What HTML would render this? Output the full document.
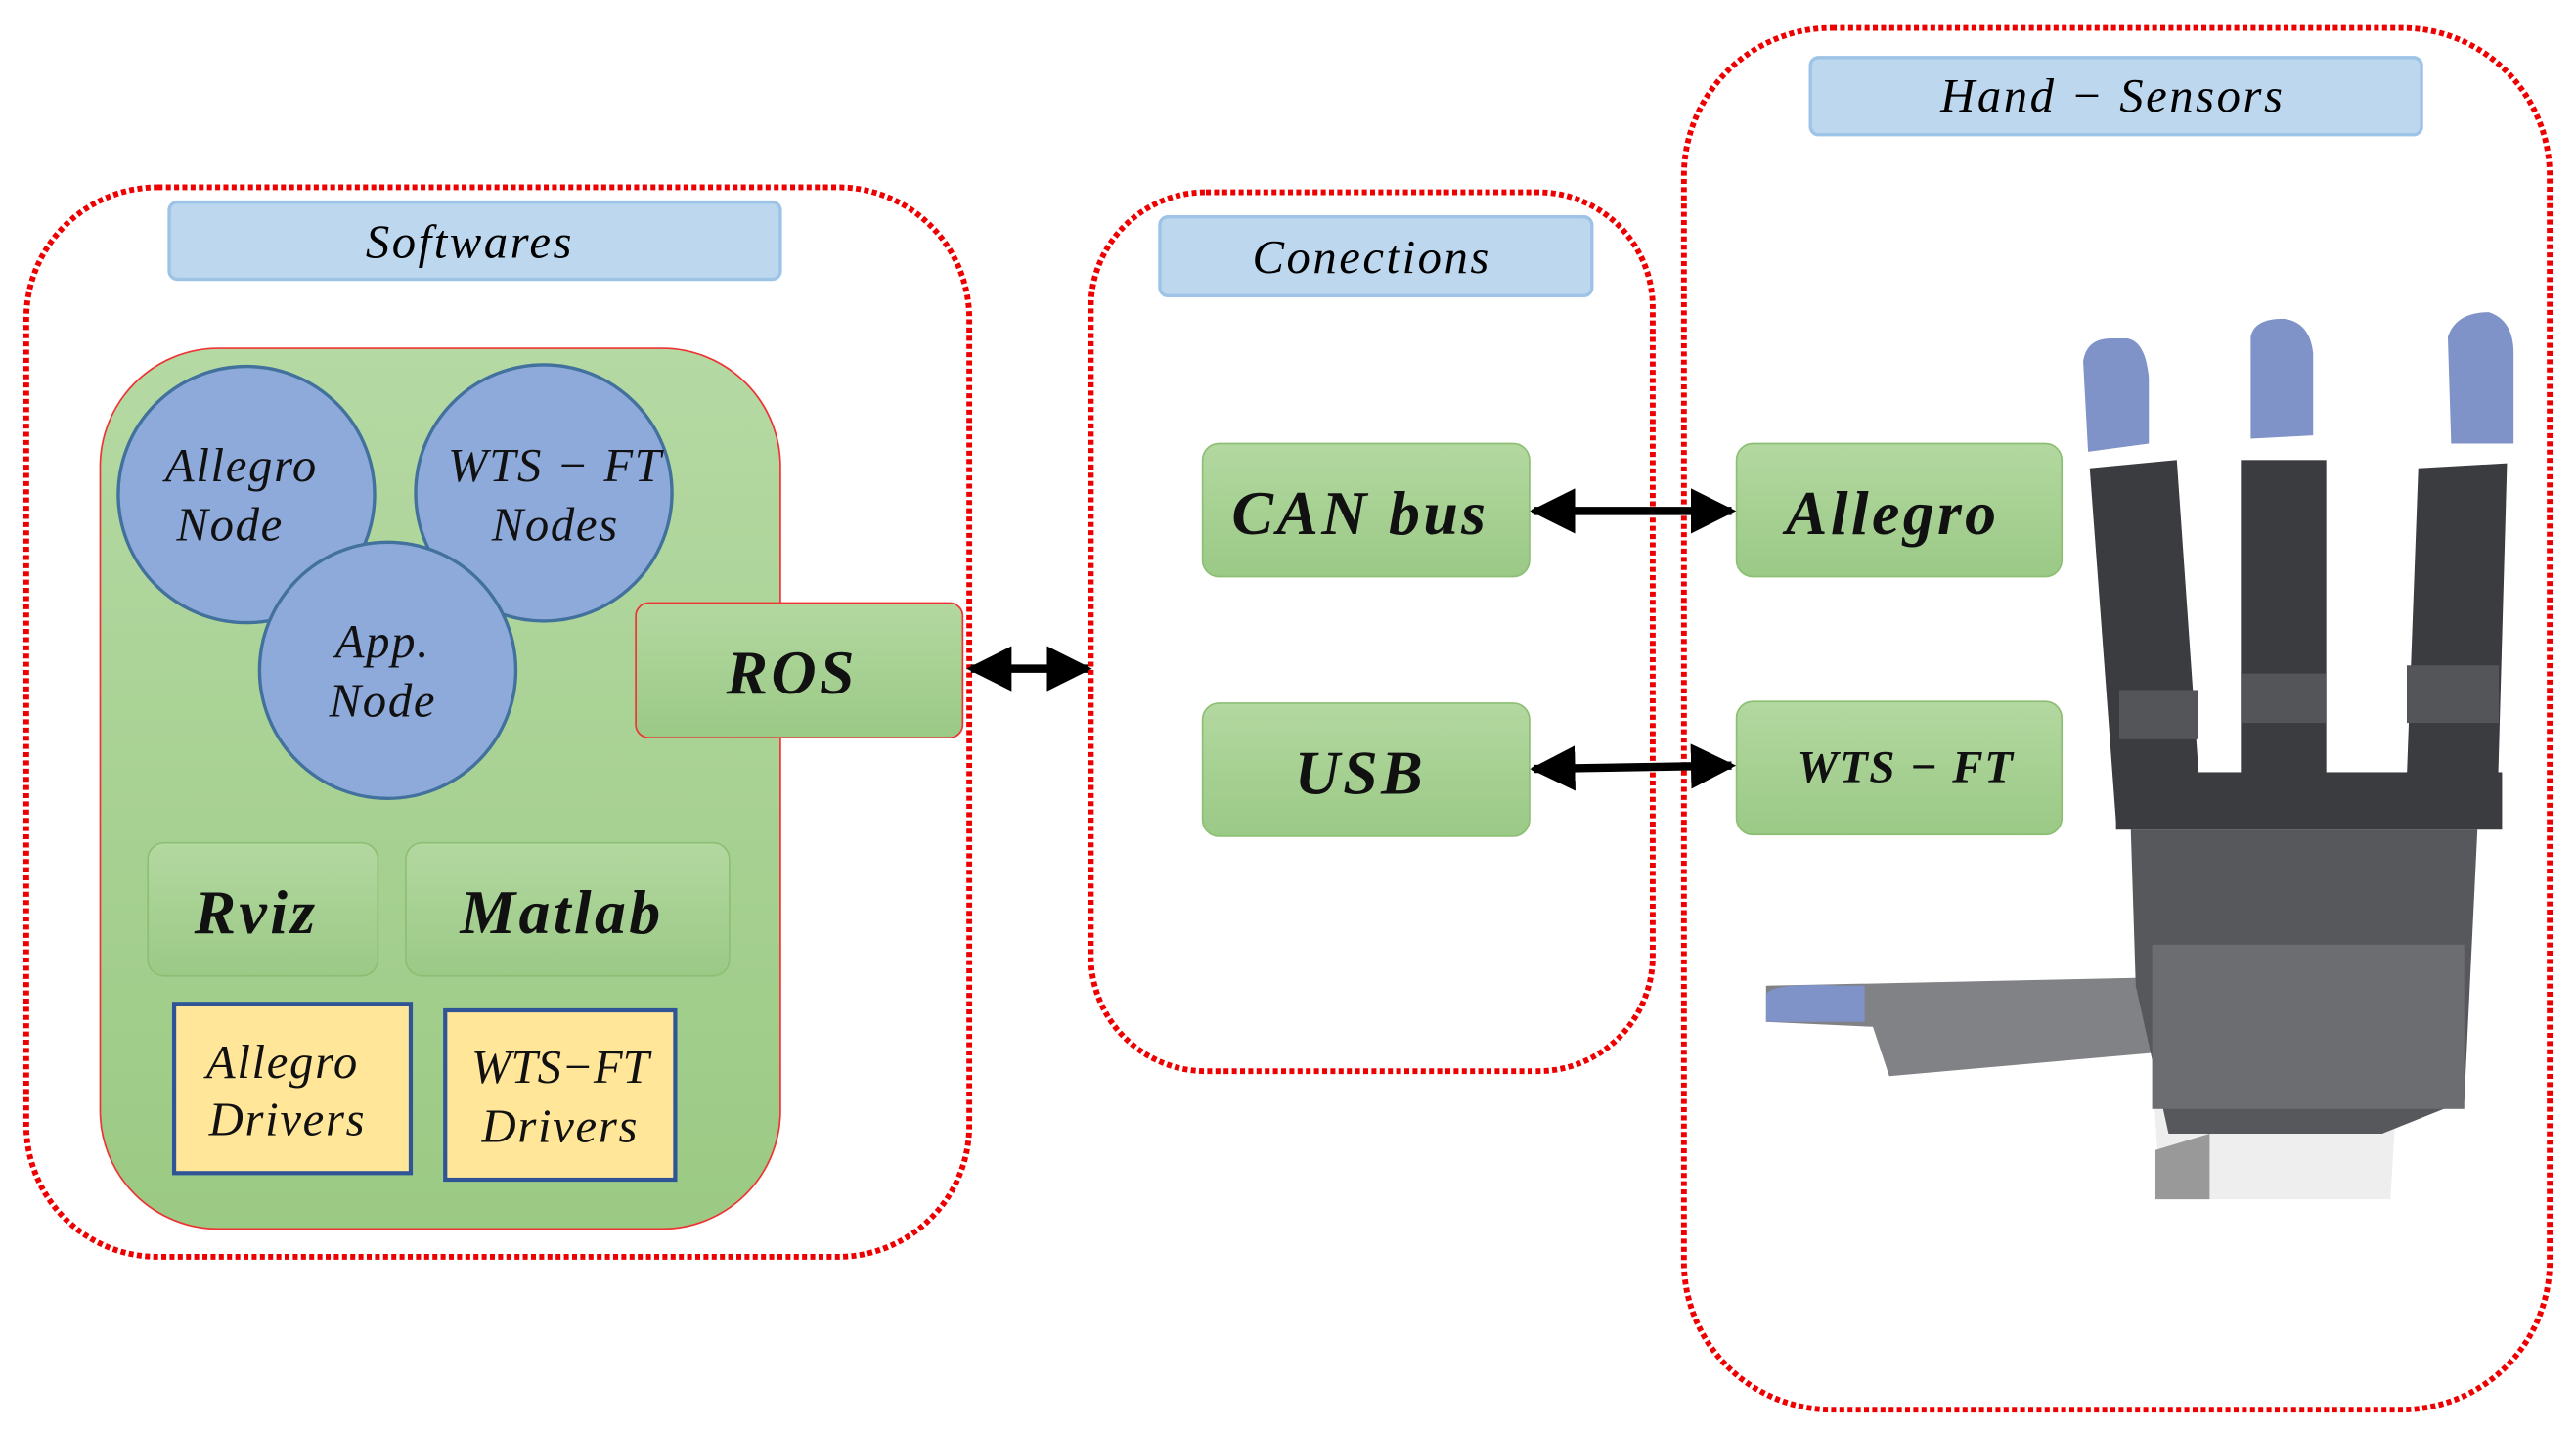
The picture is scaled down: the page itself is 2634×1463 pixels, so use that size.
<!DOCTYPE html>
<html><head><meta charset="utf-8"><style>html,body{margin:0;padding:0;background:#fff}svg{display:block}</style></head>
<body>
<svg width="2634" height="1463" viewBox="0 0 1568 871" preserveAspectRatio="none" xmlns="http://www.w3.org/2000/svg">
<defs>
<linearGradient id="g" x1="0" y1="0" x2="0" y2="1"><stop offset="0" stop-color="#b5d9a3"/><stop offset="1" stop-color="#9bca84"/></linearGradient>
<linearGradient id="gb" x1="0" y1="0" x2="0" y2="1"><stop offset="0" stop-color="#b3d8a0"/><stop offset="1" stop-color="#9bc986"/></linearGradient>
<marker id="ah" viewBox="0 0 10 10" refX="9" refY="5" markerWidth="5.5" markerHeight="5.5" orient="auto-start-reverse"><path d="M0,0 L10,5 L0,10 Z" fill="#000"/></marker>
</defs>
<g font-family="Liberation Serif, serif" font-style="italic" text-anchor="middle">
<rect x="16" y="114" width="574" height="651" rx="80" fill="none" stroke="#e00" stroke-width="3.5" stroke-dasharray="3 2"/>
<rect x="664" y="117" width="342" height="535" rx="70" fill="none" stroke="#e00" stroke-width="3.5" stroke-dasharray="3 2"/>
<rect x="1025" y="17" width="527" height="841" rx="90" fill="none" stroke="#e00" stroke-width="3.5" stroke-dasharray="3 2"/>
<rect x="103" y="123" width="372" height="47" rx="5" fill="#bdd7ee" stroke="#9dc3e6" stroke-width="2"/>
<text x="286" y="157" font-size="29" letter-spacing="1.5">Softwares</text>
<rect x="706" y="132" width="263" height="48" rx="5" fill="#bdd7ee" stroke="#9dc3e6" stroke-width="2"/>
<text x="835" y="166" font-size="29" letter-spacing="1.5">Conections</text>
<rect x="1102" y="35" width="372" height="47" rx="5" fill="#bdd7ee" stroke="#9dc3e6" stroke-width="2"/>
<text x="1286" y="68" font-size="29" letter-spacing="1.5">Hand  −  Sensors</text>
<rect x="61" y="212" width="414" height="536" rx="72" fill="url(#g)" stroke="#e33" stroke-width="1"/>
<g fill="#8eaadb" stroke="#41719c" stroke-width="2">
<circle cx="150" cy="301" r="78"/>
<circle cx="331" cy="300" r="78"/>
<circle cx="236" cy="408" r="78"/>
</g>
<g font-size="29" fill="#111" letter-spacing="1">
<text x="147" y="293">Allegro</text><text x="140" y="329">Node</text>
<text x="338" y="293">WTS − FT</text><text x="338" y="329">Nodes</text>
<text x="233" y="400">App.</text><text x="233" y="436">Node</text>
</g>
<rect x="387" y="367" width="199" height="82" rx="8" fill="url(#gb)" stroke="#e33" stroke-width="1"/>
<text x="482" y="422" font-size="38" font-weight="bold" fill="#111" letter-spacing="2">ROS</text>
<rect x="90" y="513" width="140" height="81" rx="10" fill="url(#gb)" stroke="#8cbf74" stroke-width="1"/>
<text x="156" y="568" font-size="38" font-weight="bold" fill="#111" letter-spacing="2">Rviz</text>
<rect x="247" y="513" width="197" height="81" rx="10" fill="url(#gb)" stroke="#8cbf74" stroke-width="1"/>
<text x="342" y="568" font-size="38" font-weight="bold" fill="#111" letter-spacing="2">Matlab</text>
<rect x="106" y="611" width="144" height="103" fill="#ffe699" stroke="#2f5597" stroke-width="2.5"/>
<text x="172" y="656" font-size="29" fill="#111" letter-spacing="1">Allegro</text><text x="175" y="691" font-size="29" fill="#111" letter-spacing="1">Drivers</text>
<rect x="271" y="615" width="140" height="103" fill="#ffe699" stroke="#2f5597" stroke-width="2.5"/>
<text x="341" y="659" font-size="29" fill="#111">WTS−FT</text><text x="341" y="695" font-size="29" fill="#111" letter-spacing="1">Drivers</text>
<rect x="732" y="270" width="199" height="81" rx="10" fill="url(#gb)" stroke="#8cbf74" stroke-width="1"/>
<text x="828" y="325" font-size="38" font-weight="bold" fill="#111" letter-spacing="2">CAN bus</text>
<rect x="732" y="428" width="199" height="81" rx="10" fill="url(#gb)" stroke="#8cbf74" stroke-width="1"/>
<text x="828" y="483" font-size="38" font-weight="bold" fill="#111" letter-spacing="2">USB</text>
<rect x="1057" y="270" width="198" height="81" rx="10" fill="url(#gb)" stroke="#8cbf74" stroke-width="1"/>
<text x="1152" y="325" font-size="38" font-weight="bold" fill="#111" letter-spacing="2">Allegro</text>
<rect x="1057" y="427" width="198" height="81" rx="10" fill="url(#gb)" stroke="#8cbf74" stroke-width="1"/>
<text x="1160" y="476" font-size="28" font-weight="bold" fill="#111" letter-spacing="1">WTS − FT</text>
<g stroke="#000" stroke-width="5" marker-start="url(#ah)" marker-end="url(#ah)">
<line x1="591" y1="407" x2="662" y2="407"/>
<line x1="934" y1="311" x2="1054" y2="311"/>
<line x1="934" y1="468" x2="1054" y2="466"/>
</g>
<g>
<path d="M1310,650 L1460,650 L1455,730 L1315,730 Z" fill="#eee"/>
<path d="M1312,700 L1345,690 L1345,730 L1312,730 Z" fill="#999"/>
<path d="M1075,600 L1310,595 L1320,640 L1150,655 L1140,625 L1075,622 Z" fill="#808285"/>
<path d="M1075,605 Q1080,598 1120,600 L1135,600 L1135,622 L1075,622 Z" fill="#7f93c8"/>
<path d="M1297,505 L1508,505 L1500,670 L1450,690 L1320,690 L1300,600 Z" fill="#56585c"/>
<rect x="1310" y="575" width="190" height="100" fill="#6b6d71"/>
<g fill="#3b3c40">
<path d="M1272,285 L1325,280 L1340,495 L1288,500 Z"/>
<rect x="1364" y="280" width="52" height="220"/>
<path d="M1472,285 L1526,282 L1520,495 L1464,500 Z"/>
<rect x="1288" y="470" width="235" height="35"/>
</g>
<g fill="#535559">
<rect x="1290" y="420" width="48" height="30"/>
<rect x="1364" y="410" width="52" height="30"/>
<rect x="1465" y="405" width="56" height="35"/>
</g>
<g fill="#7f93c8">
<path d="M1268,220 Q1270,206 1285,206 L1295,206 Q1306,208 1308,230 L1308,270 L1271,275 Z"/>
<path d="M1370,205 Q1372,194 1390,194 Q1406,196 1408,215 L1408,265 L1370,267 Z"/>
<path d="M1490,205 Q1495,190 1515,190 Q1530,195 1530,215 L1530,270 L1492,270 Z"/>
</g>
</g>
</g>
</svg>
</body></html>
